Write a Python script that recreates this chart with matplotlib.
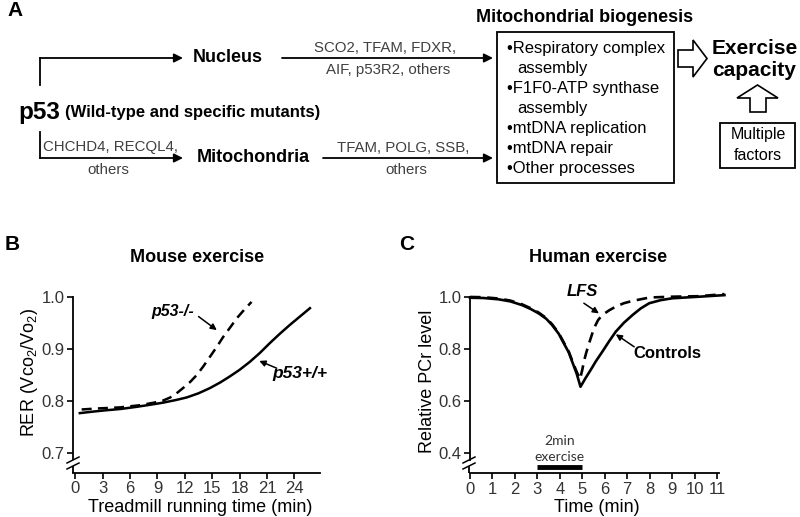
import matplotlib
matplotlib.use("Agg")
import matplotlib.pyplot as plt
from matplotlib.patches import Polygon, Rectangle

plt.rcParams["font.family"] = ["Liberation Sans", "DejaVu Sans"]
plt.rcParams["mathtext.fontset"] = "custom"
plt.rcParams["mathtext.rm"] = "Liberation Sans"

INK = "black"
GREY = "#404040"
TICK = "#333333"

# Panel B: mouse treadmill RER
mouse_wt_t = [0.5, 2.0, 3.1, 5.0, 6.7, 8.2, 9.6, 11.0, 12.2, 13.5, 14.75, 15.9, 16.9,
              18.0, 19.1, 20.2, 21.3, 22.4, 23.5, 24.6, 25.7]
mouse_wt_rer = [0.777, 0.780, 0.782, 0.785, 0.789, 0.793, 0.797, 0.802, 0.807, 0.815, 0.825,
                0.836, 0.847, 0.860, 0.875, 0.892, 0.911, 0.929, 0.946, 0.962, 0.978]
mouse_ko_t = [0.7, 2.5, 4.9, 7.0, 8.6, 9.6, 10.4, 11.1, 11.8, 12.6, 13.3, 14.0, 14.75,
              15.5, 16.2, 17.0, 17.7, 18.5, 19.3]
mouse_ko_rer = [0.784, 0.786, 0.788, 0.792, 0.797, 0.801, 0.807, 0.815, 0.825, 0.837, 0.850,
                0.866, 0.885, 0.904, 0.923, 0.942, 0.959, 0.975, 0.990]
mouse_xticks = [0, 3, 6, 9, 12, 15, 18, 21, 24]
mouse_yticks = [0.7, 0.8, 0.9, 1.0]

# Panel C: human PCr recovery
ctrl_t = [0.0, 0.6, 1.27, 1.8, 2.31, 2.7, 3.06, 3.4, 3.65, 3.95, 4.18, 4.4, 4.55, 4.75,
          4.92, 5.15, 5.37, 5.6, 5.89, 6.2, 6.49, 6.85, 7.24, 7.6, 7.98, 8.5, 9.02, 10.2, 11.33]
ctrl_pcr = [0.996, 0.995, 0.990, 0.982, 0.968, 0.953, 0.936, 0.915, 0.892, 0.858, 0.821,
            0.786, 0.751, 0.705, 0.655, 0.689, 0.719, 0.752, 0.789, 0.830, 0.866, 0.900,
            0.930, 0.955, 0.975, 0.987, 0.994, 1.000, 1.006]
lfs_t = [0.0, 0.6, 1.27, 1.8, 2.31, 2.7, 3.06, 3.4, 3.65, 3.95, 4.18, 4.4, 4.55, 4.75,
         4.9, 5.0, 5.07, 5.18, 5.3, 5.52, 5.7, 5.89, 6.2, 6.49, 6.85, 7.24, 8.0, 9.0, 10.2, 11.33]
lfs_pcr = [0.999, 0.998, 0.993, 0.985, 0.971, 0.956, 0.939, 0.918, 0.895, 0.861, 0.824,
           0.789, 0.755, 0.712, 0.685, 0.720, 0.751, 0.787, 0.821, 0.879, 0.910, 0.930,
           0.948, 0.962, 0.975, 0.984, 0.997, 1.000, 1.002, 1.010]
human_xticks = list(range(12))
human_yticks = [0.4, 0.6, 0.8, 1.0]
exercise_window = (3.0, 5.0)

fig = plt.figure(figsize=(8.0, 5.17), dpi=100)
fig.patch.set_facecolor("white")


def style_axes(ax, ybottom):
    for side in ("top", "right"):
        ax.spines[side].set_visible(False)
    for side in ("left", "bottom"):
        ax.spines[side].set_linewidth(1.3)
    ax.spines["left"].set_bounds(ybottom, 1.0)
    ax.tick_params(width=1.2, length=4, colors=INK, labelcolor=TICK, labelsize=12, pad=2)


arrow_kw = dict(arrowstyle="-|>", color=INK, lw=1.1, mutation_scale=9, shrinkA=0, shrinkB=0)

# ---- B: mouse exercise
axB = fig.add_axes([73 / 800, 1 - 473 / 517, 247 / 800, 176.3 / 517])
axB.plot(mouse_wt_t, mouse_wt_rer, color=INK, lw=1.8, clip_on=False)
axB.plot(mouse_ko_t, mouse_ko_rer, color=INK, lw=1.8, ls=(0, (4, 2.5)), clip_on=False)
axB.set_xlim(-0.25, 26.8)
axB.set_ylim(0.6623, 1.0)
axB.set_xticks(mouse_xticks)
axB.set_yticks(mouse_yticks)
axB.set_yticklabels([f"{v:.1f}" for v in mouse_yticks])
style_axes(axB, 0.69)
axB.text(10.7, 0.971, "p53-/-", fontsize=11.5, fontweight="bold", style="italic",
         ha="center", va="center")
axB.annotate("", xy=(15.5, 0.936), xytext=(13.5, 0.962), arrowprops=arrow_kw)
axB.text(24.6, 0.853, "p53+/+", fontsize=12.5, fontweight="bold", style="italic",
         ha="center", va="center", clip_on=False)
axB.annotate("", xy=(20.15, 0.877), xytext=(22.06, 0.863), arrowprops=arrow_kw)

# ---- C: human exercise
axC = fig.add_axes([470 / 800, 1 - 473.3 / 517, 249.3 / 800, 176.6 / 517])
axC.plot(ctrl_t, ctrl_pcr, color=INK, lw=1.9, clip_on=False)
axC.plot(lfs_t, lfs_pcr, color=INK, lw=1.9, ls=(0, (4, 2.5)), clip_on=False)
axC.set_xlim(0, 11.1)
axC.set_ylim(0.3234, 1.0)
axC.set_xticks(human_xticks)
axC.set_yticks(human_yticks)
axC.set_yticklabels([f"{v:.1f}" for v in human_yticks])
style_axes(axC, 0.375)
axC.plot(exercise_window, [0.349, 0.349], color=INK, lw=3.5, solid_capstyle="butt", clip_on=False)
axC.text(sum(exercise_window) / 2, 0.447, "2min", fontsize=10, family="Lato",
         color=TICK, ha="center", va="center")
axC.text(sum(exercise_window) / 2, 0.387, "exercise", fontsize=10, family="Lato",
         color=TICK, ha="center", va="center")
axC.text(5.0, 1.019, "LFS", fontsize=12, fontweight="bold", style="italic",
         ha="center", va="center", clip_on=False)
axC.annotate("", xy=(5.74, 0.936), xytext=(5.07, 0.975), arrowprops=arrow_kw)
axC.text(8.8, 0.783, "Controls", fontsize=12, fontweight="bold", ha="center", va="center")
axC.annotate("", xy=(6.49, 0.856), xytext=(7.31, 0.808), arrowprops=arrow_kw)

# ---- overlay in pixel coordinates: panel A diagram, labels, axis breaks
ov = fig.add_axes([0, 0, 1, 1], zorder=10)
ov.set_xlim(0, 800)
ov.set_ylim(517, 0)
ov.axis("off")
ov.patch.set_alpha(0)

for label, (x, y) in {"A": (15, 11), "B": (12, 245), "C": (407, 244)}.items():
    ov.text(x, y, label, fontsize=15, fontweight="bold", ha="center", va="center")

ov.text(197, 258, "Mouse exercise", fontsize=13, fontweight="bold", ha="center", va="center")
ov.text(598, 258, "Human exercise", fontsize=13, fontweight="bold", ha="center", va="center")
ov.text(200, 507, "Treadmill running time (min)", fontsize=13, ha="center", va="center")
ov.text(597, 507, "Time (min)", fontsize=13, ha="center", va="center")
ov.text(30, 372, r"RER (Vco$_\mathregular{2}$/Vo$_\mathregular{2}$)", fontsize=13,
        rotation=90, ha="center", va="center")
ov.text(427, 381, "Relative PCr level", fontsize=13, rotation=90, ha="center", va="center")

# axis breaks
for x0 in (73, 469):
    ov.plot([x0, x0], [466, 473], color=INK, lw=1.3, solid_capstyle="butt")
    for dy in (0, 6):
        ov.plot([x0 - 6, x0 + 6], [463 + dy, 457 + dy], color=INK, lw=1.1)

line_kw = dict(color=INK, lw=1.3)
big_arrow = dict(arrowstyle="-|>", color=INK, lw=1.3, mutation_scale=13, shrinkA=0, shrinkB=0)
ov.plot([40, 40], [85, 58], **line_kw)
ov.annotate("", xy=(183, 58), xytext=(40, 58), arrowprops=big_arrow)
ov.plot([40, 40], [132, 158], **line_kw)
ov.annotate("", xy=(183, 158), xytext=(40, 158), arrowprops=big_arrow)
ov.annotate("", xy=(493, 58), xytext=(282, 58), arrowprops=big_arrow)
ov.annotate("", xy=(493, 158), xytext=(323, 158), arrowprops=big_arrow)

ov.text(18, 112, "p53", fontsize=17.5, fontweight="bold", ha="left", va="center")
ov.text(65, 112, "(Wild-type and specific mutants)", fontsize=12, fontweight="bold",
        ha="left", va="center")
ov.text(193, 58, "Nucleus", fontsize=13, fontweight="bold", ha="left", va="center")
ov.text(197, 157, "Mitochondria", fontsize=13, fontweight="bold", ha="left", va="center")
small = dict(fontsize=10.8, color=GREY, va="center")
ov.text(43, 147, "CHCHD4, RECQL4,", ha="left", **small)
ov.text(108, 170, "others", ha="center", **small)
ov.text(385, 48, "SCO2, TFAM, FDXR,", ha="center", **small)
ov.text(388, 70, "AIF, p53R2, others", ha="center", **small)
ov.text(403, 148, "TFAM, POLG, SSB,", ha="center", **small)
ov.text(406, 170, "others", ha="center", **small)

ov.text(585, 18, "Mitochondrial biogenesis", fontsize=13, fontweight="bold",
        ha="center", va="center")
ov.add_patch(Rectangle((497, 32), 177, 151, fill=False, lw=1.3, ec=INK))
bullets = [(507, 48, "\u2022Respiratory complex"), (517, 68, "assembly"),
           (507, 88, "\u2022F1F0-ATP synthase"), (517, 108, "assembly"),
           (507, 128, "\u2022mtDNA replication"), (507, 149, "\u2022mtDNA repair"),
           (507, 169, "\u2022Other processes")]
for x, y, s in bullets:
    ov.text(x, y, s, fontsize=12, ha="left", va="center")

ov.add_patch(Polygon([(678, 50), (693, 50), (693, 40), (707, 58.5), (693, 77), (693, 67), (678, 67)],
                     closed=True, fc="white", ec=INK, lw=1.2))
ov.add_patch(Polygon([(750, 112), (750, 98), (737, 98), (757.5, 85), (778, 98), (766, 98), (766, 112)],
                     closed=True, fc="white", ec=INK, lw=1.2))
ov.text(712, 48, "Exercise", fontsize=15, fontweight="bold", ha="left", va="center")
ov.text(712, 70, "capacity", fontsize=15, fontweight="bold", ha="left", va="center")
ov.add_patch(Rectangle((720, 123), 75, 45, fill=False, lw=1.3, ec=INK))
ov.text(758, 135, "Multiple", fontsize=11.5, ha="center", va="center")
ov.text(758, 155, "factors", fontsize=11.5, ha="center", va="center")

fig.savefig("out.png", dpi=100)
